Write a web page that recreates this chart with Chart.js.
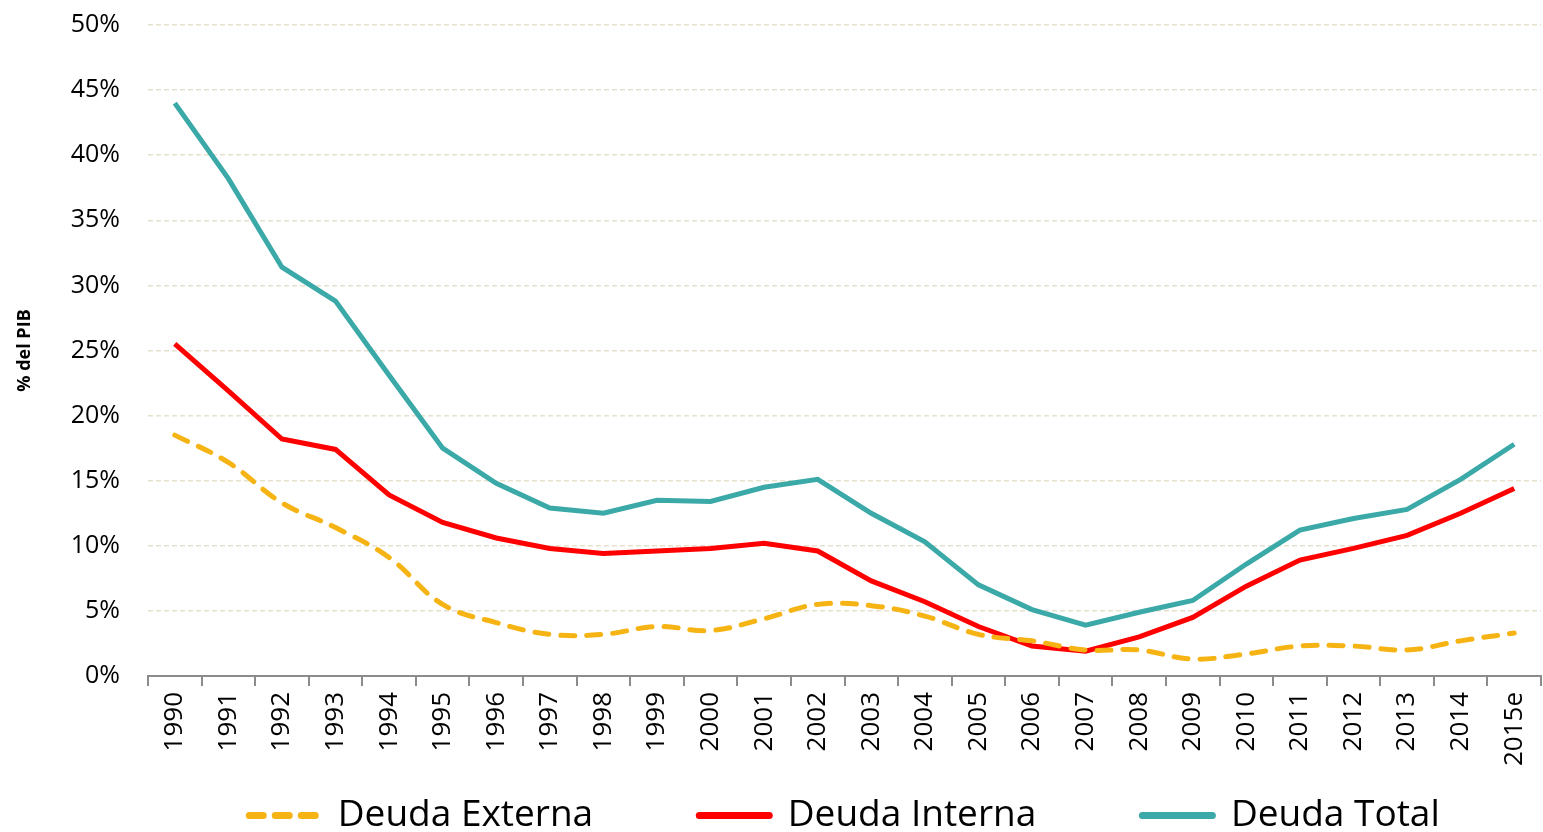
<!DOCTYPE html>
<html>
<head>
<meta charset="utf-8">
<script src="https://cdn.jsdelivr.net/npm/chart.js@4/dist/chart.umd.min.js"></script>
<style>
  html, body { margin: 0; padding: 0; background: #fff; }
  #wrap { width: 1543px; height: 832px; }
</style>
</head>
<body>
<div id="wrap"><canvas id="deuda"></canvas></div>
<script>
// categories and series (% del PIB)
var years = ["1990","1991","1992","1993","1994","1995","1996","1997","1998","1999","2000","2001","2002","2003","2004","2005","2006","2007","2008","2009","2010","2011","2012","2013","2014","2015e"];
var externa = [18.5,16.4,13.3,11.4,9.1,5.5,4.1,3.2,3.2,3.8,3.5,4.4,5.5,5.4,4.6,3.2,2.7,2.0,2.0,1.3,1.7,2.3,2.3,2.0,2.7,3.3];
var interna = [25.5,21.9,18.2,17.4,13.9,11.8,10.6,9.8,9.4,9.6,9.8,10.2,9.6,7.3,5.7,3.8,2.3,1.9,3.0,4.5,6.9,8.9,9.8,10.8,12.5,14.4];
var total = [44.0,38.2,31.4,28.8,23.1,17.5,14.8,12.9,12.5,13.5,13.4,14.5,15.1,12.5,10.3,7.0,5.1,3.9,4.9,5.8,8.6,11.2,12.1,12.8,15.1,17.8];

var font = "'Open Sans', 'Noto Sans', sans-serif";
var gap = "          "; // spacing after legend text

var ctx = document.getElementById('deuda').getContext('2d');
var chart = new Chart(ctx, {
    type: 'line',
    data: {
      labels: years,
      datasets: [{
        label: "Deuda Externa",
        data: externa,
        borderColor: "#F5B414",
        backgroundColor: "#F5B414",
        borderWidth: 5,
        borderDash: [14, 12],
        borderCapStyle: 'round',
        tension: 0.4,
        pointRadius: 0
      }, {
        label: "Deuda Interna",
        data: interna,
        borderColor: "#FF0000",
        backgroundColor: "#FF0000",
        borderWidth: 5,
        tension: 0,
        pointRadius: 0
      }, {
        label: "Deuda Total",
        data: total,
        borderColor: "#3BA9A7",
        backgroundColor: "#3BA9A7",
        borderWidth: 5,
        tension: 0,
        pointRadius: 0
      }]
    },
    options: {
      responsive: true,
      maintainAspectRatio: false,
      animation: false,
      layout: { padding: { top: 25, left: 0, right: 2, bottom: -12 } },
      plugins: {
        tooltip: { enabled: false },
        legend: {
          position: 'bottom',
          fullSize: false,
          labels: {
            usePointStyle: true,
            pointStyle: 'line',
            pointStyleWidth: 70,
            boxHeight: 7,
            padding: 10,
            color: '#000',
            font: { family: font, size: 37 },
            generateLabels: function(c) {
              var n = c.data.datasets.length;
              return c.data.datasets.map(function(ds, i) {
                return {
                  text: ds.label + (i < n - 1 ? gap : ""),
                  fillStyle: ds.borderColor,
                  strokeStyle: ds.borderColor,
                  lineWidth: 7,
                  lineDash: ds.borderDash ? [14, 12] : [],
                  lineCap: 'round',
                  pointStyle: 'line',
                  fontColor: '#000',
                  datasetIndex: i
                };
              });
            }
          }
        }
      },
      scales: {
        x: {
          offset: true,
          grid: {
            offset: true,
            drawOnChartArea: false,
            drawTicks: true,
            tickLength: 10,
            color: '#8c8c8c',
            lineWidth: 2
          },
          border: { display: true, color: '#8c8c8c', width: 2 },
          ticks: {
            minRotation: 90,
            maxRotation: 90,
            autoSkip: false,
            padding: 6,
            color: '#000',
            font: { family: font, size: 26 }
          },
          afterFit: function(s) {
            s.height = 111;
            s.paddingLeft = 0;
            s.paddingRight = 0;
          }
        },
        y: {
          min: 0,
          max: 50,
          border: { display: false, dash: [5, 3] },
          grid: {
            drawTicks: false,
            color: function(c) { return c.tick.value === 0 ? 'rgba(0,0,0,0)' : '#E6E1CC'; },
            lineWidth: 1.5
          },
          ticks: {
            stepSize: 5,
            padding: 28,
            color: '#000',
            font: { family: font, size: 25 },
            callback: function(v) { return v + '%'; }
          },
          title: {
            display: true,
            text: '% del PIB',
            color: '#000',
            font: { family: font, size: 18, weight: 'bold' },
            padding: { top: 14, bottom: 0 }
          },
          afterFit: function(s) {
            s.width = 148;
            s.paddingTop = 0;
            s.paddingBottom = 0;
          }
        }
      }
    }
});
</script>
</body>
</html>
